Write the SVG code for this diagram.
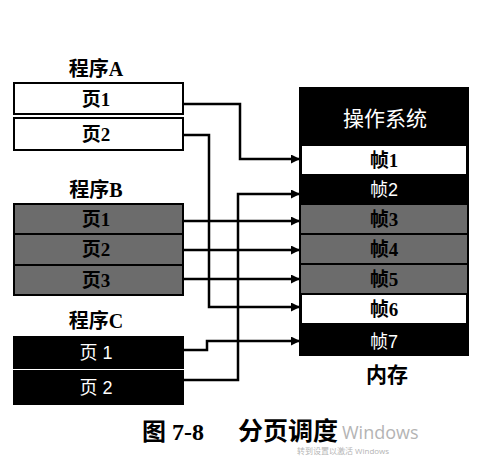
<svg xmlns="http://www.w3.org/2000/svg" width="496" height="457" viewBox="0 0 496 457">
<defs>
<marker id="arr" markerUnits="userSpaceOnUse" markerWidth="9" markerHeight="9" refX="8" refY="4.5" orient="auto">
<path d="M0,0 L9,4.5 L0,9 z" fill="#000"/>
</marker>
</defs>
<style>
.bt{font-family:"Liberation Serif","Noto Sans CJK SC",serif;font-weight:bold;text-anchor:middle;fill:#000}
.wt{font-family:"Liberation Sans","Noto Sans CJK SC",sans-serif;text-anchor:middle;fill:#fff}
.gt{font-family:"Liberation Serif","Noto Sans CJK SC",serif;font-weight:bold;text-anchor:middle;fill:#000}
.wb{fill:#fff;stroke:#000;stroke-width:2}
.gb{fill:#6c6c6c;stroke:#000;stroke-width:2}
.kb{fill:#000;stroke:#000;stroke-width:2}
.con{fill:none;stroke:#000;stroke-width:2.5}
.cap{font-family:"Liberation Serif","Noto Sans CJK SC",serif;font-weight:bold;fill:#000}
.wm{font-family:"Open Sans","Noto Sans CJK SC",sans-serif;fill:#b4b4b4}
</style>
<rect width="496" height="457" fill="#fff"/>

<g id="progA">
<text class="bt" x="96" y="76" font-size="20">程序A</text>
<g id="A1"><rect class="wb" x="14" y="83" width="169" height="31"/><text class="bt" x="96" y="106" font-size="19">页1</text></g>
<g id="A2"><rect class="wb" x="14" y="118" width="169" height="32"/><text class="bt" x="96" y="141" font-size="19">页2</text></g>
</g>

<g id="progB">
<text class="bt" x="96" y="197" font-size="20">程序B</text>
<g id="B1"><rect class="gb" x="14" y="204" width="169" height="30"/><text class="bt" x="96" y="226" font-size="19">页1</text></g>
<g id="B2"><rect class="gb" x="14" y="234" width="169" height="31"/><text class="bt" x="96" y="256" font-size="19">页2</text></g>
<g id="B3"><rect class="gb" x="14" y="265" width="169" height="30"/><text class="bt" x="96" y="287" font-size="19">页3</text></g>
</g>

<g id="progC">
<text class="bt" x="96" y="328" font-size="20">程序C</text>
<g id="C1"><rect class="kb" x="14" y="337" width="169" height="31"/><text class="wt" x="96" y="359" font-size="18">页 1</text></g>
<g id="C2"><rect class="kb" x="14" y="371" width="169" height="33"/><text class="wt" x="96" y="394" font-size="18">页 2</text></g>
</g>

<g id="memory">
<rect x="299" y="87" width="170" height="269" fill="#000"/>
<g id="os"><text class="wt" x="385" y="126" font-size="21">操作系统</text></g>
<g id="F1"><rect x="302" y="146" width="164" height="28" fill="#fff"/><text class="bt" x="384" y="167" font-size="19">帧1</text></g>
<g id="F2"><text class="wt" x="384" y="196" font-size="18">帧2</text></g>
<g id="F3"><rect class="gb" x="300" y="204" width="168" height="30" stroke-width="1.5"/><text class="gt" x="384" y="226" font-size="19">帧3</text></g>
<g id="F4"><rect class="gb" x="300" y="234" width="168" height="30" stroke-width="1.5"/><text class="gt" x="384" y="256" font-size="19">帧4</text></g>
<g id="F5"><rect class="gb" x="300" y="264" width="168" height="30" stroke-width="1.5"/><text class="gt" x="384" y="286" font-size="19">帧5</text></g>
<g id="F6"><rect x="302" y="295" width="164" height="28" fill="#fff"/><text class="bt" x="384" y="316" font-size="19">帧6</text></g>
<g id="F7"><text class="wt" x="384" y="348" font-size="18">帧7</text></g>
<text class="bt" x="387" y="382" font-size="21">内存</text>
</g>

<g id="connectors">
<path class="con" d="M183,104 H240 V159 H299" marker-end="url(#arr)"/>
<path class="con" d="M183,135 H209 V307 H299" marker-end="url(#arr)"/>
<path class="con" d="M183,221 H299" marker-end="url(#arr)"/>
<path class="con" d="M183,250 H299" marker-end="url(#arr)"/>
<path class="con" d="M183,279 H299" marker-end="url(#arr)"/>
<path class="con" d="M183,350 H207 V341 H299" marker-end="url(#arr)"/>
<path class="con" d="M183,380 H238 V194 H299" marker-end="url(#arr)"/>
</g>

<g id="caption">
<text class="cap" x="142" y="440" font-size="24">图 7-8</text>
<text class="cap" x="238" y="440" font-size="25">分页调度</text>
<text class="wm" x="342" y="439" font-size="18">Windows</text>
<text class="wm" x="297" y="454" font-size="8" fill="#c4c4c4">转到设置以激活 Windows</text>
</g>
</svg>
